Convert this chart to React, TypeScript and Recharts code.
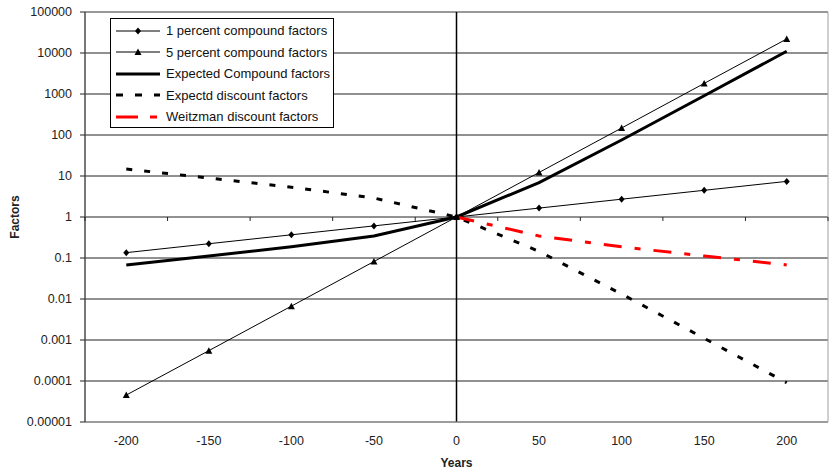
import { LineChart, Line, XAxis, YAxis, CartesianGrid, ReferenceLine, ReferenceArea } from 'recharts';

// years on the horizontal axis
const years = [-200, -150, -100, -50, 0, 50, 100, 150, 200];

// factor values (log scale)
const onePercent = [0.135, 0.223, 0.368, 0.607, 1, 1.65, 2.72, 4.48, 7.39];
const fivePercent = [0.0000454, 0.00055, 0.0067, 0.082, 1, 12.2, 148, 1810, 22000];
const expectedCompound = [0.0677, 0.112, 0.187, 0.345, 1, 6.9, 75.6, 906, 11000];
const expectedDiscount = [14.8, 8.93, 5.34, 2.9, 1, 0.145, 0.0132, 0.0011, 0.0000908];
const weitzman = [null, null, null, null, 1, 0.345, 0.187, 0.112, 0.0677];

const yTicks = [0.00001, 0.0001, 0.001, 0.01, 0.1, 1, 10, 100, 1000, 10000, 100000];
// small tick marks on the y = 1 crossing line, between the categories
const boundaryTicks = [-225, -175, -125, -75, -25, 25, 75, 125, 175, 225];

const data = years.map((year, i) => ({
  year,
  one: onePercent[i],
  five: fivePercent[i],
  compound: expectedCompound[i],
  discount: expectedDiscount[i],
  weitzman: weitzman[i],
}));

const FONT = '"Liberation Sans", Arial, sans-serif';

const Diamond = (props: any) => {
  const { cx, cy } = props;
  if (cx == null || cy == null) return null;
  return <path d={`M${cx},${cy - 3.5} L${cx + 3},${cy} L${cx},${cy + 3.5} L${cx - 3},${cy} Z`} fill="#000" />;
};

const Triangle = (props: any) => {
  const { cx, cy } = props;
  if (cx == null || cy == null) return null;
  return <path d={`M${cx},${cy - 3.5} L${cx + 3.5},${cy + 3} L${cx - 3.5},${cy + 3} Z`} fill="#000" />;
};

const legendItems = [
  { label: '1 percent compound factors', color: '#000', width: 1, dash: undefined, marker: 'diamond' },
  { label: '5 percent compound factors', color: '#000', width: 1, dash: undefined, marker: 'triangle' },
  { label: 'Expected Compound factors', color: '#000', width: 3, dash: undefined, marker: '' },
  { label: 'Expectd discount factors', color: '#000', width: 3, dash: '7 12', marker: '' },
  { label: 'Weitzman discount factors', color: '#ff0000', width: 3, dash: '22 12 7 12', marker: '' },
];

const ChartLegend = () => (
  <div
    style={{
      position: 'absolute',
      left: 110,
      top: 18,
      width: 222,
      height: 107,
      border: '1px solid #000',
      background: '#fff',
      fontFamily: FONT,
      fontSize: 13,
      color: '#111',
      paddingTop: 1,
    }}
  >
    {legendItems.map((item) => (
      <div key={item.label} style={{ display: 'flex', alignItems: 'center', height: 21.5 }}>
        <svg width={50} height={12} style={{ marginLeft: 4, marginRight: 1 }}>
          <line x1={1} y1={6} x2={45} y2={6} stroke={item.color} strokeWidth={item.width} strokeDasharray={item.dash} />
          {item.marker === 'diamond' && <Diamond cx={23} cy={6} />}
          {item.marker === 'triangle' && <Triangle cx={23} cy={6} />}
        </svg>
        <span>{item.label}</span>
      </div>
    ))}
  </div>
);

const App = () => {
  return (
    <div style={{ position: 'absolute', left: 0, top: 0, width: 832, height: 473, background: '#fff' }}>
      <LineChart
        width={832}
        height={473}
        data={data}
        margin={{ top: 12, right: 4, bottom: 6, left: 5 }}
      >
        <CartesianGrid vertical={false} stroke="#222" />
        <ReferenceArea x1={-225} x2={225} y1={0.00001} y2={100000} fill="none" stroke="#a0a0a0" strokeWidth={1} />
        <XAxis
          dataKey="year"
          type="number"
          domain={[-225, 225]}
          ticks={years}
          height={45}
          axisLine={{ stroke: '#a0a0a0' }}
          tickLine={false}
          tickSize={6}
          tickMargin={8}
          tick={{ fontSize: 12.5, fill: '#222', fontFamily: FONT }}
          label={{ value: 'Years', position: 'insideBottom', offset: 0, fontSize: 12, fontWeight: 'bold', fill: '#222', fontFamily: FONT }}
        />
        <YAxis
          scale="log"
          domain={[0.00001, 100000]}
          allowDataOverflow
          ticks={yTicks}
          width={80}
          axisLine={{ stroke: '#222' }}
          tickLine={{ stroke: '#222' }}
          tickSize={5}
          tickMargin={8}
          tickFormatter={(v: number) => String(v)}
          tick={{ fontSize: 12.5, fill: '#222', fontFamily: FONT }}
          label={{
            value: 'Factors',
            angle: -90,
            position: 'insideLeft',
            offset: 10,
            fontSize: 12,
            fontWeight: 'bold',
            fill: '#222',
            fontFamily: FONT,
            style: { textAnchor: 'middle' },
          }}
        />
        <ReferenceLine x={0} stroke="#000" strokeWidth={1.5} />
        {boundaryTicks.map((b) => (
          <ReferenceLine key={b} segment={[{ x: b, y: 1 }, { x: b, y: 0.8 }]} stroke="#222" />
        ))}
        <Line
          dataKey="one"
          stroke="#000"
          strokeWidth={1}
          dot={<Diamond />}
          activeDot={false}
          isAnimationActive={false}
        />
        <Line
          dataKey="five"
          stroke="#000"
          strokeWidth={1}
          dot={<Triangle />}
          activeDot={false}
          isAnimationActive={false}
        />
        <Line
          dataKey="compound"
          stroke="#000"
          strokeWidth={3}
          dot={false}
          activeDot={false}
          isAnimationActive={false}
        />
        <Line
          dataKey="discount"
          stroke="#000"
          strokeWidth={3}
          strokeDasharray="6 12"
          dot={false}
          activeDot={false}
          isAnimationActive={false}
        />
        <Line
          dataKey="weitzman"
          stroke="#ff0000"
          strokeWidth={3}
          strokeDasharray="18 13 6 13"
          dot={false}
          activeDot={false}
          isAnimationActive={false}
        />
      </LineChart>
      <ChartLegend />
    </div>
  );
};

export default App;
